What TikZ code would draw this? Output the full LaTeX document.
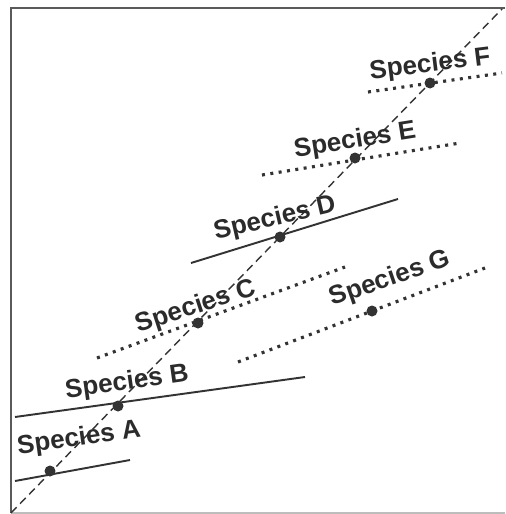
\documentclass[tikz,border=0pt]{standalone}
\usepackage{fontspec}
\setmainfont{Liberation Sans}
\usetikzlibrary{calc}

\begin{document}
\begin{tikzpicture}[x=0.02cm, y=-0.02cm,
    speciesLabel/.style={font=\bfseries\fontsize{14.8}{16}\selectfont, text=textColour, inner sep=0pt},
    speciesDot/.style={circle, fill=lineColour, inner sep=0pt, minimum size=0.22cm},
    solidRange/.style={draw=lineColour, line width=1.1pt},
    dottedRange/.style={draw=lineColour, line width=1.8pt, dash pattern=on 1.7pt off 3.1pt}]

    \definecolor{lineColour}{HTML}{333333}
    \definecolor{textColour}{HTML}{2B2B2B}
    \definecolor{frameColour}{HTML}{5A5A5A}

    % Fix the picture size (505 x 514 px)
    \useasboundingbox (0,0) rectangle (505,514);

    % Define the corners of the frame
    \coordinate (topLeft) at (11,8);
    \coordinate (topRight) at (505,8);
    \coordinate (bottomLeft) at (11,513);
    \coordinate (bottomRight) at (505,513);

    % Draw the frame
    \draw[draw=frameColour, line width=1.3pt] (topRight) -- (topLeft) -- (bottomLeft);
    \draw[draw=frameColour!40, line width=0.8pt] (bottomLeft) -- (bottomRight);

    % Draw the dashed diagonal
    \coordinate (diagEnd) at (502,9);
    \draw[draw=lineColour, line width=0.8pt, dash pattern=on 4.6pt off 2.8pt] (bottomLeft) -- (diagEnd);

    % Define the ends of each range
    \coordinate (A1) at (15,481);  \coordinate (A2) at (130,460);
    \coordinate (B1) at (15,417);  \coordinate (B2) at (305,377);
    \coordinate (C1) at (97,358);  \coordinate (C2) at (345,267);
    \coordinate (D1) at (191,263); \coordinate (D2) at (398,199);
    \coordinate (E1) at (262,175); \coordinate (E2) at (460,143);
    \coordinate (F1) at (368,92);  \coordinate (F2) at (502,73);
    \coordinate (G1) at (238,362); \coordinate (G2) at (485,268);

    % Draw the ranges
    \draw[solidRange] (A1) -- (A2);
    \draw[solidRange] (B1) -- (B2);
    \draw[dottedRange] (C1) -- (C2);
    \draw[solidRange] (D1) -- (D2);
    \draw[dottedRange] (E1) -- (E2);
    \draw[dottedRange] (F1) -- (F2);
    \draw[dottedRange] (G1) -- (G2);

    % Draw the species points
    \foreach \name/\x/\y in {A/50/471, B/118/406, C/198/323, D/280/237, E/355/158, F/430/83, G/372/311}
        \node[speciesDot] (dot\name) at (\x,\y) {};

    % Label the species
    \foreach \name/\x/\y/\angle in {A/79/439/8, B/127/383/8, C/196/307/18, D/275/219/13, E/355/141/9, F/430/65/7, G/390/279/19}
        \node[speciesLabel, rotate=\angle] (label\name) at (\x,\y) {Species \name};

\end{tikzpicture}
\end{document}
